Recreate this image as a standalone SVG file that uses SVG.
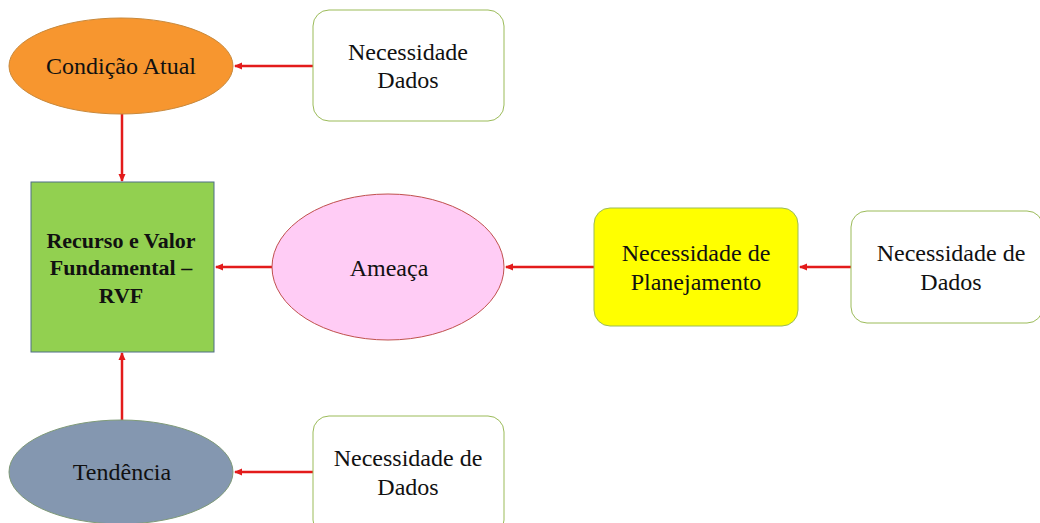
<svg xmlns="http://www.w3.org/2000/svg" width="1040" height="523" viewBox="0 0 1040 523">
<defs>
<marker id="ah" markerWidth="8" markerHeight="8" refX="7" refY="4" orient="auto" markerUnits="userSpaceOnUse">
<path d="M0,0.5 L8,4 L0,7.5 Z" fill="#E31B1B"/>
</marker>
<style>
text{font-family:'Liberation Serif','Times New Roman',Tinos,'DejaVu Serif','Noto Serif',serif;font-size:24px;fill:#111;text-anchor:middle}
.b{font-weight:bold;font-size:22px}
.wbox{fill:#fff;stroke:#9BBB59;stroke-width:1}
.conn{stroke:#E31B1B;stroke-width:2.5;fill:none;marker-end:url(#ah)}
</style>
</defs>
<rect width="1040" height="523" fill="#fff"/>
<g id="connectors">
<line class="conn" x1="313" y1="66" x2="235" y2="66"/>
<line class="conn" x1="122" y1="114" x2="122" y2="181"/>
<line class="conn" x1="272" y1="267" x2="216" y2="267"/>
<line class="conn" x1="594" y1="267" x2="506" y2="267"/>
<line class="conn" x1="851" y1="267" x2="800" y2="267"/>
<line class="conn" x1="122" y1="420" x2="122" y2="353"/>
<line class="conn" x1="313" y1="472" x2="235" y2="472"/>
</g>
<g id="condicao">
<ellipse cx="121" cy="66" rx="112" ry="48" fill="#F7962F" stroke="#C8883A" stroke-width="1"/>
<text x="121" y="74">Condição Atual</text>
</g>
<g id="dados1">
<rect class="wbox" x="313" y="10" width="191" height="111" rx="16"/>
<text x="408" y="60">Necessidade</text>
<text x="408" y="88">Dados</text>
</g>
<g id="rvf">
<rect x="31" y="182" width="183" height="170" fill="#92D050" stroke="#4F6F86" stroke-width="1"/>
<text class="b" x="121" y="248">Recurso e Valor</text>
<text class="b" x="121" y="275">Fundamental –</text>
<text class="b" x="121" y="303">RVF</text>
</g>
<g id="ameaca">
<ellipse cx="388" cy="267" rx="116" ry="73" fill="#FFCCF5" stroke="#C0504D" stroke-width="1"/>
<text x="389" y="276">Ameaça</text>
</g>
<g id="planejamento">
<rect x="594" y="208" width="204" height="118" rx="16" fill="#FFFF00" stroke="#9BBB59" stroke-width="1"/>
<text x="696" y="261">Necessidade de</text>
<text x="696" y="290">Planejamento</text>
</g>
<g id="dados2">
<rect class="wbox" x="851" y="211" width="192" height="112" rx="16"/>
<text x="951" y="261">Necessidade de</text>
<text x="951" y="290">Dados</text>
</g>
<g id="tendencia">
<ellipse cx="121" cy="472" rx="112" ry="52" fill="#8497B0" stroke="#7F9A78" stroke-width="1"/>
<text x="122" y="480">Tendência</text>
</g>
<g id="dados3">
<rect class="wbox" x="313" y="416" width="191" height="120" rx="16"/>
<text x="408" y="466">Necessidade de</text>
<text x="408" y="495">Dados</text>
</g>
</svg>
